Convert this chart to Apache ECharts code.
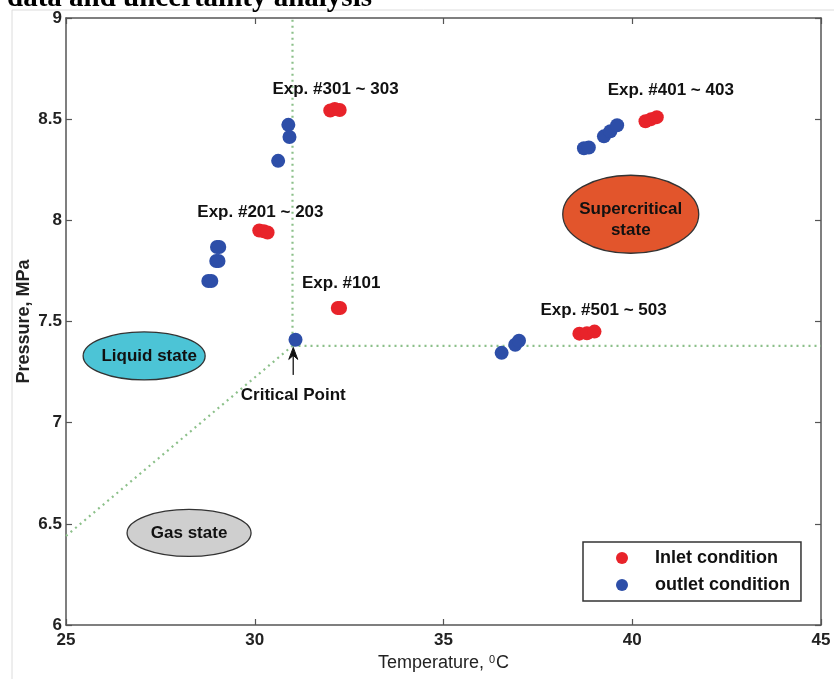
<!DOCTYPE html>
<html>
<head>
<meta charset="utf-8">
<script src="https://cdn.jsdelivr.net/npm/echarts@6/dist/echarts.min.js"></script>
<style>html,body{margin:0;padding:0;background:#fff}#c{width:834px;height:679px}</style>
</head>
<body>
<div id="c"></div>
<script>
// ---- data ----
const inletT = [32.0, 32.12, 32.25, 30.12, 30.24, 30.34, 32.2, 32.26, 38.6, 38.8, 39.0, 40.35, 40.5, 40.65];
const inletP = [8.543, 8.55, 8.545, 7.95, 7.946, 7.94, 7.567, 7.567, 7.44, 7.442, 7.45, 8.49, 8.50, 8.51];
const outletT = [30.89, 30.92, 30.62, 29.0, 29.06, 28.98, 29.04, 28.77, 28.85, 31.08, 36.54, 36.9, 37.0, 38.72, 38.85, 39.25, 39.42, 39.6];
const outletP = [8.472, 8.412, 8.294, 7.868, 7.868, 7.799, 7.799, 7.70, 7.70, 7.41, 7.345, 7.385, 7.405, 8.356, 8.36, 8.415, 8.44, 8.47];
const vertLineT = [31.0, 31.0];
const vertLineP = [7.38, 9.0];
const horzLineT = [31.0, 45.0];
const horzLineP = [7.38, 7.38];
const diagLineT = [25.0, 31.0];
const diagLineP = [6.44, 7.38];
const seriesNames = ['Inlet condition', 'outlet condition'];
const expLabels = ['Exp. #301 ~ 303', 'Exp. #401 ~ 403', 'Exp. #201 ~ 203', 'Exp. #101', 'Exp. #501 ~ 503'];
const regionLabels = ['Liquid state', 'Gas state', 'Supercritical\nstate'];
const xTicks = {min: 25, max: 45, interval: 5};
const yTicks = {min: 6, max: 9, interval: 0.5};

// ---- annotation placement (data coordinates) ----
const expAt = [[32.14, 8.65], [41.02, 8.645], [30.15, 8.04], [32.29, 7.69], [39.24, 7.557]];
const regionAt = [[27.07, 7.33], [28.26, 6.455], [39.96, 8.03]];
const regionR = [[61, 24], [62, 23.5], [68, 39]];
const regionFill = ['#4cc4d6', '#cfcfcf', '#e2552c'];
const regionTextDy = [0, 0, 6];
const critLabelAt = [31.02, 7.137];
const arrowFrom = [31.02, 7.236];
const arrowTo = [31.02, 7.372];

const FONT = '"Liberation Sans", Arial, Helvetica, sans-serif';
const pair = (a, b) => a.map((v, i) => [v, b[i]]);

const chart = echarts.init(document.getElementById('c'), null, {renderer: 'canvas'});

function axisCommon(extra) {
  return Object.assign({
    type: 'value',
    axisLine: {show: true, onZero: false, lineStyle: {color: '#555', width: 1.5}},
    axisTick: {show: true, inside: true, length: 6, lineStyle: {color: '#555', width: 1.2}},
    splitLine: {show: false}
  }, extra);
}

const lineStyle = {color: '#8cc08a', width: 2.2, type: [2, 4]};

chart.setOption({
  animation: false,
  backgroundColor: '#fff',
  grid: {left: 66, right: 13, top: 18, bottom: 54, containLabel: false},
  xAxis: [
    axisCommon(Object.assign({}, xTicks, {
      position: 'bottom',
      name: 'Temperature, {sup|0}C',
      nameLocation: 'middle',
      nameGap: 29,
      nameMoveOverlap: false,
      nameTextStyle: {fontFamily: FONT, fontSize: 18, color: '#222',
        rich: {sup: {fontSize: 11, verticalAlign: 'top', fontFamily: FONT, color: '#222', padding: [0, 1, 8, 0]}}},
      axisLabel: {fontFamily: FONT, fontSize: 17, fontWeight: 'bold', color: '#222', margin: 7}
    })),
    axisCommon(Object.assign({}, xTicks, {position: 'top', axisLabel: {show: false}}))
  ],
  yAxis: [
    axisCommon(Object.assign({}, yTicks, {
      position: 'left',
      name: 'Pressure, MPa',
      nameLocation: 'middle',
      nameGap: 33,
      nameMoveOverlap: false,
      nameTextStyle: {fontFamily: FONT, fontSize: 18, fontWeight: 'bold', color: '#222'},
      axisLabel: {fontFamily: FONT, fontSize: 17, fontWeight: 'bold', color: '#222', margin: 4}
    })),
    axisCommon(Object.assign({}, yTicks, {position: 'right', axisLabel: {show: false}}))
  ],
  legend: {
    data: seriesNames,
    orient: 'vertical',
    left: 583, top: 542,
    icon: 'circle',
    itemWidth: 50, itemHeight: 12, itemGap: 9,
    padding: [7, 11, 7, 33],
    borderColor: '#333', borderWidth: 1.5,
    backgroundColor: '#fff',
    textStyle: {fontFamily: FONT, fontSize: 18, fontWeight: 'bold', color: '#111', padding: [0, 0, 0, 3]},
    selectedMode: false
  },
  series: [
    {type: 'line', data: pair(vertLineT, vertLineP), symbol: 'none', lineStyle: lineStyle, silent: true, z: 1},
    {type: 'line', data: pair(horzLineT, horzLineP), symbol: 'none', lineStyle: lineStyle, silent: true, z: 1},
    {type: 'line', data: pair(diagLineT, diagLineP), symbol: 'none', lineStyle: lineStyle, silent: true, z: 1},
    {name: seriesNames[0], type: 'scatter', data: pair(inletT, inletP), symbol: 'circle', symbolSize: 14,
      itemStyle: {color: '#e8232a', opacity: 1}, z: 5},
    {name: seriesNames[1], type: 'scatter', data: pair(outletT, outletP), symbol: 'circle', symbolSize: 14,
      itemStyle: {color: '#2d4ea8', opacity: 1}, z: 5}
  ]
});

function px(p) { return chart.convertToPixel({gridIndex: 0}, p); }

const g = [];
// page frame and cropped heading
g.push({type: 'rect', shape: {x: 12, y: 10, width: 900, height: 800}, style: {fill: null, stroke: '#dcdcdc', lineWidth: 1}, z: -10, silent: true});
g.push({type: 'text', x: 7, y: -1, style: {text: 'data and uncertainty analysis', font: 'bold 29px "Liberation Serif", "Times New Roman", serif', fill: '#000', verticalAlign: 'middle', align: 'left'}, silent: true});

// region ellipses
regionAt.forEach((p, i) => {
  const c = px(p);
  g.push({type: 'ellipse', shape: {cx: c[0], cy: c[1], rx: regionR[i][0], ry: regionR[i][1]},
    style: {fill: regionFill[i], stroke: '#333', lineWidth: 1.3}, z: 20, silent: true});
  g.push({type: 'text', x: c[0] + (i === 0 ? 5 : 0), y: c[1] + regionTextDy[i],
    style: {text: regionLabels[i], font: 'bold 17px ' + FONT, fill: '#111', align: 'center', verticalAlign: 'middle', lineHeight: 21},
    z: 21, silent: true});
});

// experiment labels
expAt.forEach((p, i) => {
  const c = px(p);
  g.push({type: 'text', x: c[0], y: c[1],
    style: {text: expLabels[i], font: 'bold 17px ' + FONT, fill: '#111', align: 'center', verticalAlign: 'middle'},
    z: 21, silent: true});
});

// critical point label and arrow
const cl = px(critLabelAt);
g.push({type: 'text', x: cl[0], y: cl[1],
  style: {text: 'Critical Point', font: 'bold 17px ' + FONT, fill: '#111', align: 'center', verticalAlign: 'middle'}, z: 21, silent: true});
const a0 = px(arrowFrom), a1 = px(arrowTo);
g.push({type: 'line', shape: {x1: a0[0], y1: a0[1], x2: a1[0], y2: a1[1] + 6}, style: {stroke: '#333', lineWidth: 1.5}, z: 21, silent: true});
g.push({type: 'polygon', shape: {points: [[a1[0], a1[1]], [a1[0] - 4.5, a1[1] + 12], [a1[0], a1[1] + 8], [a1[0] + 4.5, a1[1] + 12]]},
  style: {fill: '#111', stroke: '#111', lineWidth: 1}, z: 21, silent: true});

chart.setOption({graphic: g});
</script>
</body>
</html>
